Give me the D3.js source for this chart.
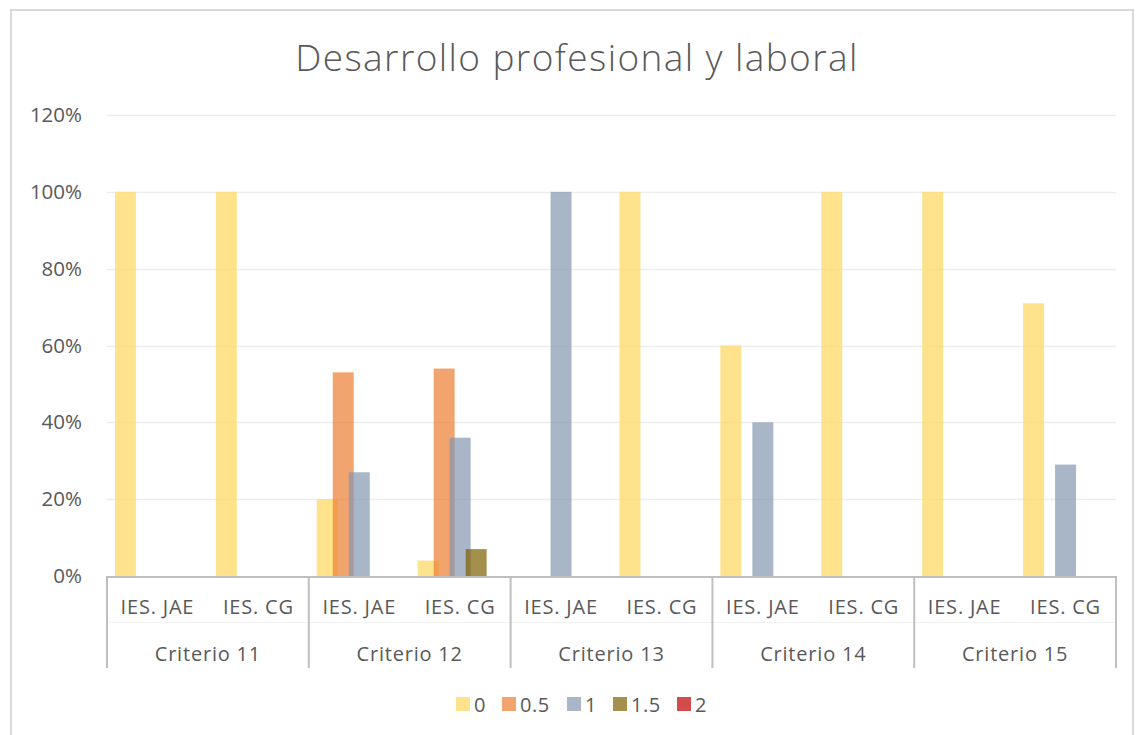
<!DOCTYPE html>
<html>
<head>
<meta charset="utf-8">
<script src="https://cdn.jsdelivr.net/npm/d3@7"></script>
<style>
  body { margin: 0; background: #fff; }
  svg text { font-family: "Open Sans", sans-serif; fill: #595959; }
</style>
</head>
<body>
<svg id="fig" width="1140" height="735"></svg>
<script>
const criteria = ['Criterio 11', 'Criterio 12', 'Criterio 13', 'Criterio 14', 'Criterio 15'];
const schools = ['IES. JAE', 'IES. CG'];
const series = ['0', '0.5', '1', '1.5', '2'];
const colors = ['#FFD966', '#ED7D31', '#8497B0', '#7F6000', '#C00000'];
const yTicks = [0, 0.2, 0.4, 0.6, 0.8, 1.0, 1.2];

// values per series, in order: C11 JAE, C11 CG, C12 JAE, C12 CG, ... C15 CG
const s0   = [1.00, 1.00, 0.20, 0.04, 0,    1.00, 0.60, 1.00, 1.00, 0.71];
const s05  = [0,    0,    0.53, 0.54, 0,    0,    0,    0,    0,    0];
const s1   = [0,    0,    0.27, 0.36, 1.00, 0,    0.40, 0,    0,    0.29];
const s15  = [0,    0,    0,    0.07, 0,    0,    0,    0,    0,    0];
const s2   = [0,    0,    0,    0,    0,    0,    0,    0,    0,    0];
const allSeries = [s0, s05, s1, s15, s2];

const svg = d3.select('#fig');
const W = 1140, H = 735;

// chart frame
svg.append('rect')
  .attr('x', 11).attr('y', 10).attr('width', 1122).attr('height', H)
  .attr('fill', '#fff').attr('stroke', '#D9D9D9').attr('stroke-width', 2);

const plotLeft = 107, plotRight = 1116, plotTop = 115, plotBottom = 576;

const subKeys = [];
criteria.forEach(c => schools.forEach(s => subKeys.push(c + '|' + s)));

const xCrit = d3.scaleBand().domain(criteria).range([plotLeft, plotRight]);
const xSub = d3.scaleBand().domain(subKeys).range([plotLeft, plotRight]);
const bw = xSub.bandwidth();
const xSeries = d3.scalePoint().domain(series).range([-bw * 0.317, bw * 0.317]);
const barW = bw * 0.208;

const y = d3.scaleLinear().domain([0, 1.2]).range([plotBottom, plotTop]);

// title
svg.append('text')
  .attr('x', 577).attr('y', 71)
  .attr('text-anchor', 'middle')
  .style('font-size', '37px')
  .style('font-weight', 300)
  .style('letter-spacing', '1.4px')
  .text('Desarrollo profesional y laboral');

// gridlines
svg.append('g').selectAll('line')
  .data(yTicks.filter(d => d > 0))
  .enter().append('line')
  .attr('x1', plotLeft).attr('x2', plotRight)
  .attr('y1', d => Math.round(y(d)) + 0.5).attr('y2', d => Math.round(y(d)) + 0.5)
  .attr('stroke', '#EDEDED').attr('stroke-width', 1.5);

// y labels
svg.append('g').selectAll('text')
  .data(yTicks)
  .enter().append('text')
  .attr('x', 82).attr('y', d => y(d) + 7)
  .attr('text-anchor', 'end')
  .style('font-size', '20.5px')
  .text(d => d3.format('.0%')(d));

// bars
allSeries.forEach((vals, si) => {
  svg.append('g')
    .selectAll('rect')
    .data(vals.map((v, i) => ({ key: subKeys[i], v: v })).filter(d => d.v > 0))
    .enter().append('rect')
    .attr('x', d => xSub(d.key) + bw / 2 + xSeries(series[si]) - barW / 2)
    .attr('y', d => y(d.v))
    .attr('width', barW)
    .attr('height', d => plotBottom - y(d.v))
    .attr('fill', colors[si])
    .attr('fill-opacity', si === 0 ? 0.75 : 0.7);
});

// category axis
const axisColor = '#BFBFBF';
svg.append('line')
  .attr('x1', plotLeft).attr('x2', plotRight).attr('y1', plotBottom + 1).attr('y2', plotBottom + 1)
  .attr('stroke', axisColor).attr('stroke-width', 2);
svg.append('line')
  .attr('x1', plotLeft).attr('x2', plotRight).attr('y1', 622.5).attr('y2', 622.5)
  .attr('stroke', '#F2F2F2').attr('stroke-width', 1);

const bounds = criteria.map(c => xCrit(c)).concat([plotRight]);
svg.append('g').selectAll('line')
  .data(bounds)
  .enter().append('line')
  .attr('x1', d => d).attr('x2', d => d)
  .attr('y1', plotBottom).attr('y2', 668)
  .attr('stroke', axisColor).attr('stroke-width', 2);

svg.append('g').selectAll('text')
  .data(subKeys)
  .enter().append('text')
  .attr('x', d => xSub(d) + bw / 2).attr('y', 614)
  .attr('text-anchor', 'middle')
  .style('font-size', '20px')
  .style('letter-spacing', '0.8px')
  .text(d => d.split('|')[1]);

svg.append('g').selectAll('text')
  .data(criteria)
  .enter().append('text')
  .attr('x', d => xCrit(d) + xCrit.bandwidth() / 2).attr('y', 661)
  .attr('text-anchor', 'middle')
  .style('font-size', '20px')
  .style('letter-spacing', '0.8px')
  .text(d => d);

// legend
const legendX = [456, 502, 567, 613, 677];
const legend = svg.append('g');
series.forEach((s, i) => {
  legend.append('rect')
    .attr('x', legendX[i]).attr('y', 697)
    .attr('width', 14).attr('height', 14)
    .attr('fill', colors[i]).attr('fill-opacity', i === 0 ? 0.75 : 0.7);
  legend.append('text')
    .attr('x', legendX[i] + 18).attr('y', 712)
    .style('font-size', '20px')
    .style('letter-spacing', '0.5px')
    .text(s);
});
</script>
</body>
</html>
